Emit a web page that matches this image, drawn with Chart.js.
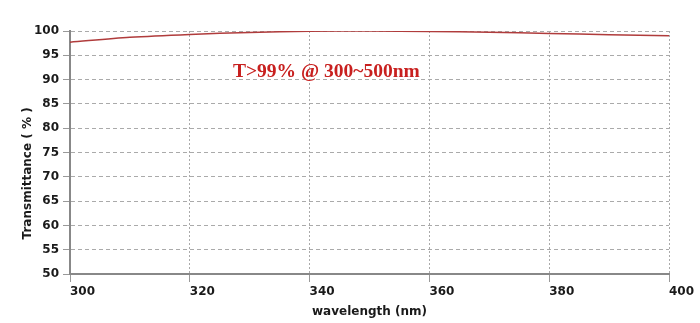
<!DOCTYPE html>
<html>
<head>
<meta charset="utf-8">
<script src="https://cdn.jsdelivr.net/npm/chart.js@4/dist/chart.umd.min.js"></script>
<style>
    html, body { margin: 0; padding: 0; background: #fff; }
    #wrap { width: 700px; height: 323px; position: relative; }
</style>
</head>
<body>
<div id="wrap"><canvas id="chart" width="700" height="323"></canvas></div>
<script>
const wavelengths = [300, 310, 320, 330, 340, 350, 360, 370, 380, 390, 400];
const transmittance = [97.7, 98.7, 99.3, 99.7, 99.95, 100, 99.9, 99.75, 99.5, 99.25, 99.0];
const xTicks = [300, 320, 340, 360, 380, 400];
const yTicks = [50, 55, 60, 65, 70, 75, 80, 85, 90, 95, 100];
const note = 'T>99% @ 300~500nm';
const notePos = { x: 342.8, y: 91.6 };

const tickFont = { family: 'DejaVu Sans', size: 12, weight: 'bold' };

// red annotation inside the plot
const notePlugin = {
    id: 'note',
    afterDatasetsDraw(chart) {
        const { ctx, scales } = chart;
        ctx.save();
        ctx.font = 'bold 19.5px "Liberation Serif"';
        ctx.fillStyle = '#c8201f';
        ctx.textAlign = 'center';
        ctx.textBaseline = 'middle';
        ctx.fillText(note, scales.x.getPixelForValue(notePos.x), scales.y.getPixelForValue(notePos.y));
        ctx.restore();
    },
};

new Chart(document.getElementById('chart'), {
    type: 'line',
    data: {
        datasets: [{
            data: wavelengths.map((w, i) => ({ x: w, y: transmittance[i] })),
            borderColor: '#b03c3c',
            borderWidth: 1.5,
            pointRadius: 0,
            tension: 0.3,
            fill: false,
        }],
    },
    options: {
        responsive: false,
        animation: false,
        layout: { padding: { top: 31, right: 31, left: 0, bottom: 0 } },
        plugins: { legend: { display: false }, tooltip: { enabled: false } },
        scales: {
            x: {
                type: 'linear',
                min: 300,
                max: 400,
                afterBuildTicks: (s) => { s.ticks = xTicks.map((v) => ({ value: v })); },
                afterFit: (s) => { s.height = 49; },
                ticks: { color: '#1a1a1a', font: tickFont, padding: 3, align: 'start', maxRotation: 0 },
                grid: { color: '#aaa', tickLength: 8, tickColor: '#999' },
                border: { display: true, color: '#888', width: 2, dash: [2, 2] },
                title: {
                    display: true,
                    text: 'wavelength (nm)',
                    color: '#1a1a1a',
                    font: tickFont,
                    padding: { top: 0, bottom: 4 },
                },
            },
            y: {
                min: 50,
                max: 100,
                afterBuildTicks: (s) => { s.ticks = yTicks.map((v) => ({ value: v })); },
                afterFit: (s) => { s.width = 70; },
                ticks: { color: '#1a1a1a', font: tickFont, padding: 4 },
                grid: { color: '#aaa', tickLength: 7, tickColor: '#999' },
                border: { display: true, color: '#888', width: 2, dash: [4, 3] },
                title: {
                    display: true,
                    // trailing spaces push the centred title down, as in the original
                    text: 'Transmittance ( % )' + '\u00a0'.repeat(10),
                    color: '#1a1a1a',
                    font: tickFont,
                    padding: { top: 21, bottom: 0 },
                },
            },
        },
    },
    plugins: [notePlugin],
});
</script>
</body>
</html>
